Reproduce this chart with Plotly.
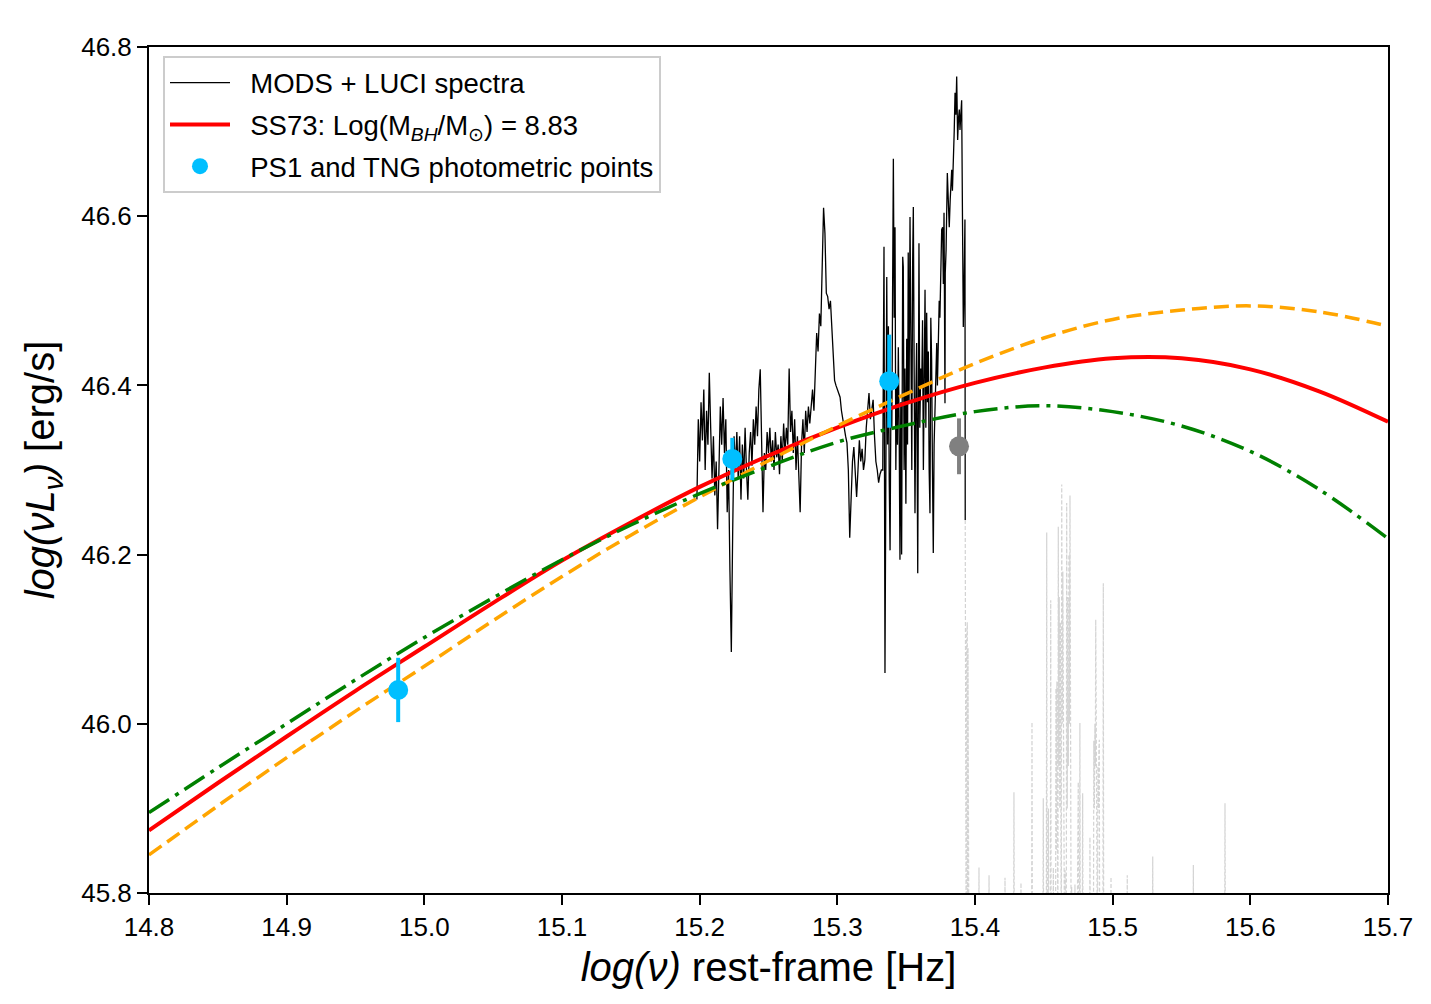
import plotly.graph_objects as go

# ---------------- model curves (SS73 accretion disc) ----------------
model_lognu = [14.80, 14.85, 14.90, 14.95, 15.00, 15.05, 15.10, 15.15, 15.20, 15.25,
               15.30, 15.35, 15.40, 15.45, 15.50, 15.55, 15.60, 15.65, 15.70]
ss73_best = [45.874, 45.930, 45.985, 46.039, 46.091, 46.143, 46.193, 46.238, 46.280, 46.317,
             46.350, 46.379, 46.403, 46.421, 46.432, 46.432, 46.419, 46.393, 46.357]
ss73_orange = [45.845, 45.903, 45.960, 46.015, 46.068, 46.122, 46.174, 46.223, 46.268, 46.311,
               46.352, 46.390, 46.426, 46.456, 46.478, 46.489, 46.494, 46.487, 46.470]
ss73_green = [45.895, 45.948, 46.000, 46.052, 46.102, 46.149, 46.194, 46.235, 46.272, 46.304,
              46.333, 46.353, 46.369, 46.376, 46.369, 46.352, 46.322, 46.277, 46.219]

# ---------------- photometric points ----------------
phot_lognu = [14.981, 15.2237, 15.3377]
phot_val = [46.040, 46.313, 46.405]
phot_err = [0.038, 0.025, 0.055]
grey_lognu = [15.3884]
grey_val = [46.328]
grey_err = [0.033]

# ---------------- MODS + LUCI spectrum ----------------
spec_lognu = [
    15.198, 15.199, 15.200, 15.201, 15.202, 15.203, 15.204, 15.205, 15.206, 15.207,
    15.208, 15.209, 15.210, 15.211, 15.212, 15.213, 15.214, 15.215, 15.216, 15.217,
    15.218, 15.219, 15.220, 15.221, 15.222, 15.223, 15.224, 15.225, 15.226, 15.227,
    15.228, 15.229, 15.230, 15.231, 15.232, 15.233, 15.234, 15.235, 15.236, 15.237,
    15.238, 15.239, 15.240, 15.241, 15.242, 15.243, 15.244, 15.245, 15.246, 15.247,
    15.248, 15.249, 15.250, 15.251, 15.252, 15.253, 15.254, 15.255, 15.256, 15.257,
    15.258, 15.259, 15.260, 15.261, 15.262, 15.263, 15.264, 15.265, 15.266, 15.267,
    15.268, 15.269, 15.270, 15.271, 15.272, 15.273, 15.274, 15.275, 15.276, 15.277,
    15.278, 15.279, 15.280, 15.281, 15.282, 15.283, 15.284, 15.285, 15.286, 15.287,
    15.288, 15.289, 15.290, 15.291, 15.292, 15.293, 15.294, 15.295, 15.296, 15.297,
    15.298, 15.299, 15.300, 15.301, 15.302, 15.303, 15.304, 15.305, 15.306, 15.307,
    15.308, 15.309, 15.310, 15.311, 15.312, 15.313, 15.314, 15.315, 15.316, 15.317,
    15.318, 15.319, 15.320, 15.321, 15.322, 15.323, 15.324, 15.325, 15.326, 15.327,
    15.328, 15.329, 15.330, 15.331, 15.332,
    15.3330, 15.3334, 15.3337, 15.3339, 15.3346, 15.3352, 15.3359, 15.3365, 15.3371, 15.3377,
    15.3383, 15.3390, 15.3396, 15.3401, 15.3407, 15.3413, 15.3419, 15.3425, 15.3431, 15.3437,
    15.3443, 15.3449, 15.3455, 15.3461, 15.3467, 15.3475, 15.3479, 15.3485, 15.3491, 15.3498,
    15.3504, 15.3510, 15.3515, 15.3521, 15.3528, 15.3535, 15.3541, 15.3547, 15.3552, 15.3558,
    15.3564, 15.3570, 15.3576, 15.3584, 15.3593, 15.3599, 15.3606, 15.3613, 15.3619, 15.3625,
    15.3631, 15.3637, 15.3643, 15.3649, 15.3655, 15.3661, 15.3667, 15.3673, 15.3679, 15.3685,
    15.3691, 15.3697, 15.3703, 15.3709, 15.3715, 15.3722, 15.3727, 15.3733, 15.3740, 15.3745,
    15.3751, 15.3758, 15.3765, 15.3770, 15.3775, 15.3782, 15.3784, 15.3790, 15.3799, 15.3806,
    15.3813, 15.3820, 15.3825, 15.3831, 15.3836, 15.3842, 15.3849, 15.3855, 15.3861, 15.3867,
    15.3874, 15.3880, 15.3886, 15.3891, 15.3897, 15.3903, 15.3909, 15.3915, 15.3921, 15.3927,
    15.3929,
]
spec_lognuLnu = [
    46.265, 46.360, 46.310, 46.380, 46.335, 46.395, 46.300, 46.370, 46.330, 46.415,
    46.350, 46.290, 46.340, 46.270, 46.310, 46.230, 46.300, 46.375, 46.330, 46.385,
    46.320, 46.360, 46.250, 46.300, 46.180, 46.085, 46.230, 46.340, 46.300, 46.345,
    46.290, 46.340, 46.265, 46.330, 46.290, 46.350, 46.300, 46.265, 46.320, 46.345,
    46.305, 46.360, 46.330, 46.375, 46.340, 46.395, 46.419, 46.310, 46.250, 46.320,
    46.300, 46.345, 46.320, 46.350, 46.310, 46.335, 46.300, 46.345, 46.315, 46.330,
    46.295, 46.340, 46.310, 46.355, 46.320, 46.350, 46.330, 46.420, 46.345, 46.370,
    46.320, 46.360, 46.300, 46.340, 46.290, 46.250, 46.330, 46.360, 46.320, 46.370,
    46.345, 46.375, 46.355, 46.380, 46.395, 46.370, 46.410, 46.462, 46.440, 46.485,
    46.470, 46.560, 46.610, 46.580, 46.509, 46.505, 46.490, 46.500, 46.469, 46.440,
    46.406, 46.400, 46.395, 46.390, 46.386, 46.370, 46.359, 46.345, 46.340, 46.332,
    46.300, 46.220, 46.280, 46.310, 46.327, 46.290, 46.268, 46.300, 46.335, 46.310,
    46.325, 46.300, 46.312, 46.350, 46.370, 46.391, 46.360, 46.375, 46.383, 46.340,
    46.310, 46.300, 46.285, 46.295, 46.300,
    46.300, 46.460, 46.380, 46.564, 46.060, 46.420, 46.528, 46.330, 46.470, 46.288,
    46.205, 46.400, 46.350, 46.500, 46.668, 46.480, 46.587, 46.300, 46.400, 46.330,
    46.445, 46.350, 46.194, 46.380, 46.200, 46.552, 46.540, 46.300, 46.420, 46.260,
    46.455, 46.330, 46.557, 46.380, 46.599, 46.440, 46.300, 46.545, 46.611, 46.420,
    46.249, 46.380, 46.450, 46.178, 46.568, 46.350, 46.420, 46.398, 46.477, 46.300,
    46.420, 46.513, 46.350, 46.486, 46.380, 46.440, 46.300, 46.249, 46.480, 46.430,
    46.300, 46.202, 46.330, 46.383, 46.420, 46.450, 46.400, 46.469, 46.500, 46.480,
    46.556, 46.584, 46.587, 46.520, 46.604, 46.379, 46.533, 46.560, 46.651, 46.600,
    46.587, 46.620, 46.640, 46.655, 46.630, 46.658, 46.700, 46.746, 46.720, 46.765,
    46.690, 46.715, 46.726, 46.702, 46.720, 46.737, 46.600, 46.469, 46.520, 46.596,
    46.241,
]

# ---------------- masked (grey dashed) part of the spectrum ----------------
masked_lognu = [
    15.3929, 15.3931, 15.3934, 15.3936, 15.3939, 15.3941, 15.3944, 15.3946, 15.3949, 15.3951,
    15.3954, 15.3956, 15.3960, 15.3962,
    15.4026, 15.4029, 15.4032, 15.4099, 15.4102, 15.4105, 15.4215, 15.4218, 15.4221,
    15.4280, 15.4283, 15.4286, 15.4331, 15.4334, 15.4337, 15.4411, 15.4414, 15.4417,
    15.4493, 15.4496, 15.4499, 15.4518, 15.4521, 15.4524, 15.4530, 15.4533, 15.4536,
    15.4547, 15.4550, 15.4553, 15.4566, 15.4569, 15.4572,
    15.4585, 15.4588, 15.4591, 15.4595, 15.4598,
    15.4602, 15.4605, 15.4608, 15.4612, 15.4616, 15.4620, 15.4624,
    15.4627, 15.4630, 15.4634, 15.4638, 15.4642,
    15.4651, 15.4654, 15.4657,
    15.4663, 15.4666, 15.4670, 15.4674, 15.4678, 15.4682, 15.4686, 15.4690, 15.4694,
    15.4699, 15.4702, 15.4705, 15.4723, 15.4726, 15.4729,
    15.4740, 15.4743, 15.4747, 15.4750, 15.4754,
    15.4759, 15.4762, 15.4765, 15.4779, 15.4782, 15.4785, 15.4832, 15.4835, 15.4838,
    15.4860, 15.4863, 15.4867, 15.4871, 15.4874, 15.4877, 15.4880,
    15.4890, 15.4893, 15.4897, 15.4900, 15.4903, 15.4906,
    15.4929, 15.4932, 15.4935, 15.4985, 15.4988, 15.4991, 15.5103, 15.5106, 15.5109,
    15.5288, 15.5291, 15.5294, 15.5583, 15.5586, 15.5589, 15.5813, 15.5816, 15.5819,
]
masked_lognuLnu = [
    46.241, 45.700, 46.138, 45.700, 46.101, 45.700, 46.120, 45.700, 46.090, 45.700,
    46.000, 45.700, 45.780, 45.700,
    45.700, 45.830, 45.700, 45.700, 45.821, 45.700, 45.700, 45.818, 45.700,
    45.700, 45.919, 45.700, 45.700, 45.812, 45.700, 45.700, 46.002, 45.700,
    45.700, 45.912, 45.700, 45.700, 46.226, 45.700, 45.700, 45.900, 45.700,
    45.700, 46.146, 45.700, 45.700, 45.830, 45.700,
    45.700, 46.042, 45.850, 46.050, 45.700,
    45.700, 46.233, 45.950, 46.150, 45.900, 46.120, 45.700,
    45.700, 46.283, 46.000, 46.180, 45.700,
    45.700, 45.827, 45.700,
    45.700, 46.261, 45.900, 46.150, 45.950, 46.200, 46.000, 46.270, 45.700,
    45.700, 45.807, 45.700, 45.700, 45.810, 45.700,
    45.700, 45.850, 45.900, 45.931, 45.700,
    45.700, 46.001, 45.700, 45.700, 45.918, 45.700, 45.700, 45.866, 45.700,
    45.700, 45.980, 45.900, 46.000, 45.950, 46.123, 45.700,
    45.700, 45.950, 45.900, 45.970, 45.981, 45.700,
    45.700, 46.166, 45.700, 45.700, 45.819, 45.700, 45.700, 45.821, 45.700,
    45.700, 45.843, 45.700, 45.700, 45.833, 45.700, 45.700, 45.906, 45.700,
]

x_ticks = [14.8, 14.9, 15.0, 15.1, 15.2, 15.3, 15.4, 15.5, 15.6, 15.7]
x_ticklabels = ["14.8", "14.9", "15.0", "15.1", "15.2", "15.3", "15.4", "15.5", "15.6", "15.7"]
y_ticks = [45.8, 46.0, 46.2, 46.4, 46.6, 46.8]
y_ticklabels = ["45.8", "46.0", "46.2", "46.4", "46.6", "46.8"]

FONT = "Liberation Sans, Arial, Helvetica, sans-serif"
PAD = "\u00a0\u00a0"

fig = go.Figure()

fig.add_trace(go.Scatter(
    x=spec_lognu, y=spec_lognuLnu, mode="lines",
    line=dict(color="black", width=1.3),
    name=PAD + "MODS + LUCI spectra", legendgroup="a", legendrank=1,
))
fig.add_trace(go.Scatter(
    x=masked_lognu, y=masked_lognuLnu, mode="lines",
    line=dict(color="#d3d3d3", width=1.2, dash="4px,2px"),
    showlegend=False,
))
fig.add_trace(go.Scatter(
    x=model_lognu, y=ss73_best, mode="lines",
    line=dict(color="#ff0000", width=4, shape="spline"),
    name=PAD + "SS73: Log(M<sub><i>BH</i></sub>/M<sub>⊙</sub>) = 8.83", legendgroup="b", legendrank=2,
))
fig.add_trace(go.Scatter(
    x=model_lognu, y=ss73_orange, mode="lines",
    line=dict(color="#ffa500", width=3.5, dash="15px,7px", shape="spline"),
    showlegend=False,
))
fig.add_trace(go.Scatter(
    x=model_lognu, y=ss73_green, mode="lines",
    line=dict(color="#008000", width=3.5, dash="24px,7px,4px,7px", shape="spline"),
    showlegend=False,
))
fig.add_trace(go.Scatter(
    x=grey_lognu, y=grey_val, mode="markers",
    marker=dict(color="#808080", size=20),
    error_y=dict(type="data", array=grey_err, color="#808080", thickness=4, width=0),
    showlegend=False,
))
fig.add_trace(go.Scatter(
    x=phot_lognu, y=phot_val, mode="markers",
    marker=dict(color="#00bfff", size=20),
    error_y=dict(type="data", array=phot_err, color="#00bfff", thickness=4, width=0),
    name=PAD + "PS1 and TNG photometric points", legendgroup="c", legendrank=3,
))

axis_common = dict(
    showgrid=False, zeroline=False, showline=True, linecolor="black", linewidth=2,
    mirror=True, ticks="outside", ticklen=10, tickwidth=2, tickcolor="black",
    tickfont=dict(family=FONT, size=26, color="black"),
)

fig.update_xaxes(
    range=[14.8, 15.7], tickvals=x_ticks, ticktext=x_ticklabels,
    title=dict(text="<i>log(ν)</i> rest-frame [Hz]", font=dict(family=FONT, size=40, color="black"), standoff=12),
    **axis_common,
)
fig.update_yaxes(
    range=[45.8, 46.8], tickvals=y_ticks, ticktext=y_ticklabels,
    title=dict(text="<i>log(νL<sub>ν</sub>)</i> [erg/s]", font=dict(family=FONT, size=40, color="black"), standoff=14),
    **axis_common,
)

# page body has an 8px margin, so the figure is offset accordingly
fig.update_layout(
    width=1423, height=996,
    margin=dict(l=141, r=43, t=39, b=111, autoexpand=False),
    plot_bgcolor="white", paper_bgcolor="white",
    font=dict(family=FONT, size=26, color="black"),
    legend=dict(
        x=0.0113, y=0.989, xanchor="left", yanchor="top",
        bgcolor="rgba(255,255,255,0.8)", bordercolor="#cccccc", borderwidth=2,
        font=dict(family=FONT, size=27.5, color="black"),
        itemwidth=60, tracegroupgap=3, traceorder="grouped",
    ),
)

fig.write_html("out.html")
